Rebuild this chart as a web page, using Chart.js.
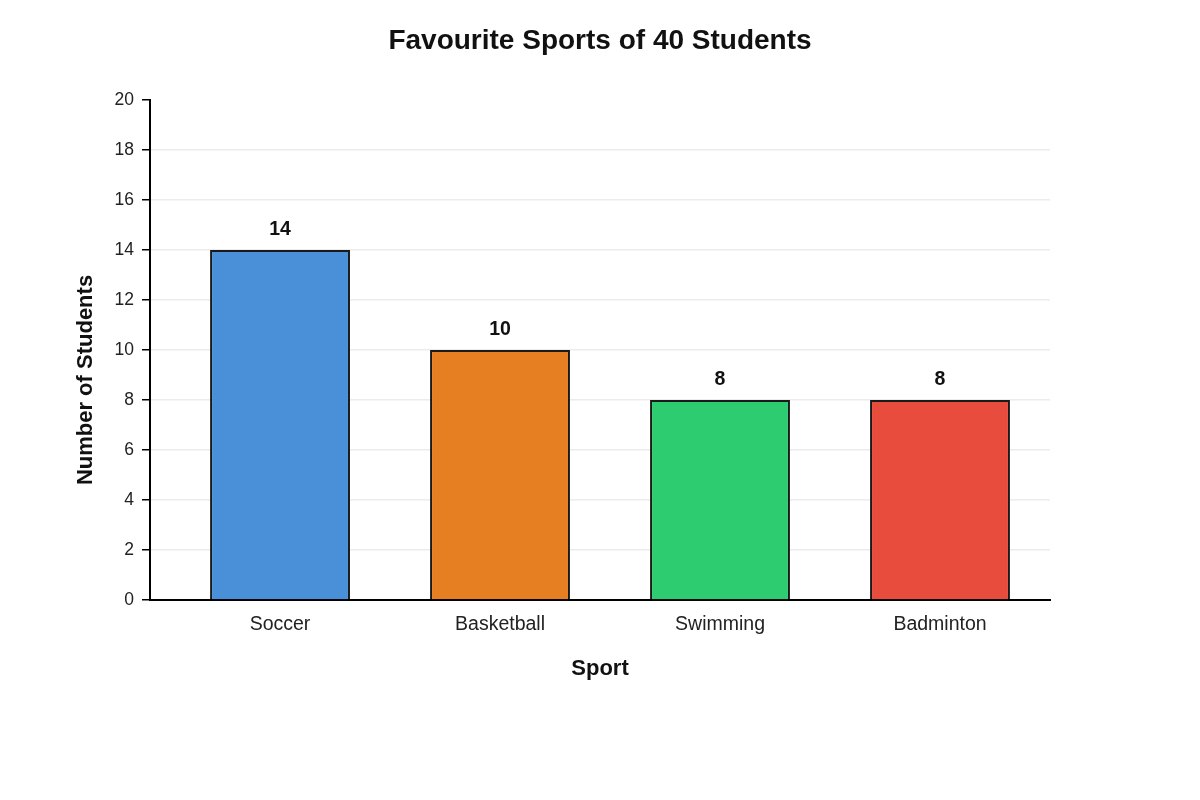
<!DOCTYPE html>
<html lang="en">
<head>
    <meta charset="UTF-8">
    <title>Favourite Sports of 40 Students</title>
    <script src="https://cdn.jsdelivr.net/npm/chart.js"></script>
    <style>
        body { margin: 0; background: #fff; }
        canvas { display: block; }
    </style>
</head>
<body>
    <canvas id="sportsChart" width="1200" height="800"></canvas>

    <script>
        // Data
        const sports = ['Soccer', 'Basketball', 'Swimming', 'Badminton'];
        const students = [14, 10, 8, 8];
        const barColors = ['#4a90d9', '#e67e22', '#2ecc71', '#e74c3c'];
        const yTicks = [0, 2, 4, 6, 8, 10, 12, 14, 16, 18, 20];
        const chartTitle = 'Favourite Sports of 40 Students';
        const yTitle = 'Number of Students';

        const fontFamily = '"Liberation Sans", Arial, sans-serif';

        // one point per sport, category index on x
        const points = sports.map((s, i) => ({ x: i, y: students[i] }));

        // chart title centred on the canvas, y title sits a bit below the axis middle
        const extraTitles = {
            id: 'extraTitles',
            afterDraw(chart) {
                const ctx = chart.ctx;
                ctx.save();
                ctx.fillStyle = '#111';
                ctx.textAlign = 'center';
                ctx.textBaseline = 'middle';
                ctx.font = 'bold 28px ' + fontFamily;
                ctx.fillText(chartTitle, chart.width / 2, 41);

                ctx.translate(86, 380);
                ctx.rotate(-Math.PI / 2);
                ctx.font = 'bold 22px ' + fontFamily;
                ctx.fillText(yTitle, 0, 0);
                ctx.restore();
            }
        };

        // value labels above bars
        const valueLabels = {
            id: 'valueLabels',
            afterDatasetsDraw(chart) {
                const ctx = chart.ctx;
                const meta = chart.getDatasetMeta(0);
                ctx.save();
                ctx.font = 'bold 19.5px ' + fontFamily;
                ctx.fillStyle = '#111';
                ctx.textAlign = 'center';
                ctx.textBaseline = 'bottom';
                meta.data.forEach((bar, i) => {
                    ctx.fillText(students[i], bar.x, bar.y - 11);
                });
                ctx.restore();
            }
        };

        new Chart(document.getElementById('sportsChart'), {
            type: 'bar',
            data: {
                datasets: [{
                    data: points,
                    backgroundColor: barColors,
                    borderColor: '#1a1a1a',
                    borderWidth: 2,
                    barPercentage: 0.636,
                    categoryPercentage: 1.0
                }]
            },
            options: {
                responsive: false,
                animation: false,
                layout: {
                    padding: { left: 70, right: 150, top: 100, bottom: 100 }
                },
                plugins: {
                    legend: { display: false },
                    tooltip: { enabled: false },
                    title: { display: false }
                },
                scales: {
                    x: {
                        type: 'linear',
                        offset: false,
                        min: -0.591,
                        max: 3.5,
                        afterBuildTicks(scale) {
                            scale.ticks = sports.map((s, i) => ({ value: i }));
                        },
                        grid: { display: false, drawTicks: false },
                        border: { color: '#000', width: 2 },
                        ticks: {
                            color: '#222',
                            padding: 13,
                            font: { family: fontFamily, size: 19.5 },
                            callback: v => sports[v]
                        },
                        title: {
                            display: true,
                            text: 'Sport',
                            color: '#111',
                            font: { family: fontFamily, size: 22, weight: 'bold' },
                            padding: { top: 0, bottom: 18 }
                        },
                        afterFit(scale) { scale.height = 100; }
                    },
                    y: {
                        min: 0,
                        max: 20,
                        afterBuildTicks(scale) {
                            scale.ticks = yTicks.map(v => ({ value: v }));
                        },
                        grid: {
                            color: ctx => ctx.tick && ctx.tick.value === 20 ? 'rgba(0,0,0,0)' : '#ececec',
                            tickColor: '#000',
                            tickLength: 8,
                            lineWidth: 1.5,
                            tickWidth: 1.5
                        },
                        border: { color: '#000', width: 2 },
                        ticks: {
                            color: '#222',
                            padding: 8,
                            font: { family: fontFamily, size: 17.5 }
                        },
                        title: { display: false },
                        afterFit(scale) { scale.width = 80; }
                    }
                }
            },
            plugins: [valueLabels, extraTitles]
        });
    </script>
</body>
</html>
